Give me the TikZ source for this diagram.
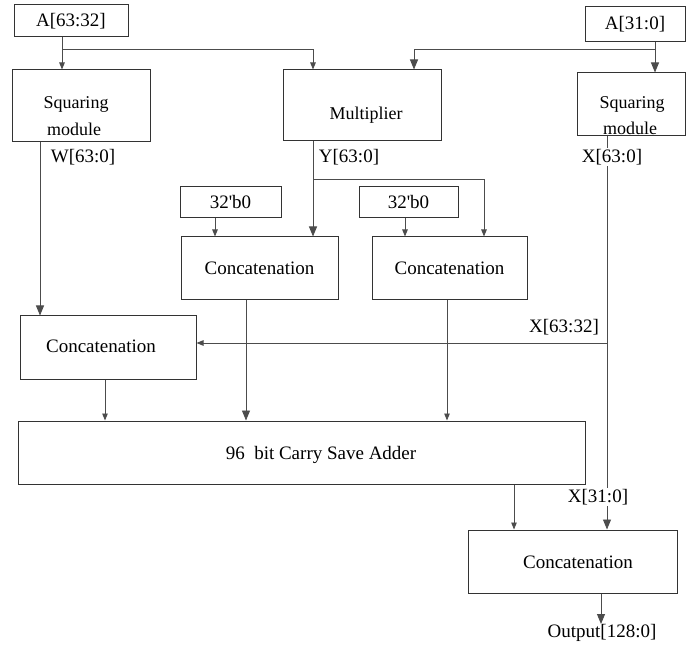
\documentclass[tikz,border=0pt]{standalone}
\usepackage{fontspec}
\setmainfont{Liberation Serif}
\usetikzlibrary{arrows.meta,calc}
\begin{document}
\begin{tikzpicture}[x=1pt,y=-1pt,
  blk/.style={draw=black!80,line width=1pt,inner sep=0pt},
  txt/.style={inner sep=0pt,font=\fontsize{18}{20}\selectfont},
  lbl/.style={inner sep=0pt,font=\fontsize{19}{21}\selectfont},
  wire/.style={draw=black!70,line width=0.9pt},
  arr/.style={wire,-{Triangle[length=7pt,width=5.5pt]}},
  arrb/.style={wire,-{Triangle[length=10pt,width=8pt]}}]
\useasboundingbox (0,0) rectangle (686,647);
% boxes
\node[blk,minimum width=114,minimum height=32] (a632) at (71,21) {};
\node[lbl] at (a632) {A[63:32]};
\node[blk,minimum width=100,minimum height=35] (a310) at (635,24.5) {};
\node[lbl] at (a310) {A[31:0]};
\node[blk,minimum width=138,minimum height=72] (sqL) at (81,106) {};
\node[txt] (sqLt1) at (76,104) {Squaring};
\node[txt] (sqLt2) at (74,129) {module};
\node[blk,minimum width=158,minimum height=71] (mult) at (362,105.5) {};
\node[txt] (multt) at (366,115) {Multiplier};
\node[blk,minimum width=108,minimum height=63] (sqR) at (631,104.5) {};
\node[txt] (sqRt1) at (632,104) {Squaring};
\node[txt] (sqRt2) at (630,128) {module};
\node[blk,minimum width=101,minimum height=31] (zL) at (230.5,202.5) {};
\node[lbl] at (zL) {32\textquotesingle b0};
\node[blk,minimum width=99,minimum height=31] (zR) at (408.5,202.5) {};
\node[lbl] at (zR) {32\textquotesingle b0};
\node[blk,minimum width=157,minimum height=63] (c1) at (259.5,268.5) {};
\node[lbl] at (c1) {Concatenation};
\node[blk,minimum width=155,minimum height=63] (c2) at (449.5,268.5) {};
\node[lbl] at (c2) {Concatenation};
\node[blk,minimum width=176,minimum height=63] (cL) at (108,347.5) {};
\node[lbl] at (101,346) {Concatenation};
\node[blk,minimum width=567,minimum height=63] (csa) at (301.5,452.5) {};
\node[lbl] at (321,455) {96\ \ bit Carry Save Adder};
\node[blk,minimum width=209,minimum height=63] (cF) at (572.5,561.5) {};
\node[lbl] at (578,562) {Concatenation};
\node[lbl,anchor=north] (out) at (602,624) {Output[128:0]};
% columns and rows
\coordinate (xa) at (62,0);
\coordinate (xm) at (313,0);
\coordinate (xb) at (414,0);
\coordinate (xr) at (655,0);
\coordinate (xW) at (40,0);
\coordinate (xY2) at (484,0);
\coordinate (xz1) at (215,0);
\coordinate (xz2) at (405,0);
\coordinate (xX) at (607,0);
\coordinate (xcl) at (105,0);
\coordinate (xc1) at (246,0);
\coordinate (xc2) at (447,0);
\coordinate (xcs) at (514,0);
\coordinate (xo) at (601,0);
\coordinate (yA) at (0,49);
\coordinate (yY) at (0,179);
\coordinate (yX) at (0,343);
% connectors
\draw[arr] (a632.south -| xa) -- (sqL.north -| xa);
\draw[arr] (xa |- yA) -| (mult.north -| xm);
\draw[arrb] (a310.south -| xr) -- (sqR.north -| xr);
\draw[arrb] (xr |- yA) -| (mult.north -| xb);
\draw[arrb] (sqL.south -| xW) -- (cL.north -| xW);
\draw[arrb] (mult.south -| xm) -- (c1.north -| xm);
\draw[arr] (xm |- yY) -| (c2.north -| xY2);
\draw[arr] (zL.south -| xz1) -- (c1.north -| xz1);
\draw[arr] (zR.south -| xz2) -- (c2.north -| xz2);
\draw[arrb] (sqR.south -| xX) -- (cF.north -| xX);
\draw[arr] (xX |- yX) -- (cL.east |- yX);
\draw[arr] (cL.south -| xcl) -- (csa.north -| xcl);
\draw[arrb] (c1.south -| xc1) -- (csa.north -| xc1);
\draw[arr] (c2.south -| xc2) -- (csa.north -| xc2);
\draw[arr] (csa.south -| xcs) -- (cF.north -| xcs);
\draw[arrb] (cF.south -| xo) -- (out.north -| xo);
% labels
\node[lbl] (lW) at (83,157) {W[63:0]};
\node[lbl] (lY) at (349,157) {Y[63:0]};
\node[lbl,fill=white,inner sep=1pt] (lX) at (612,157) {X[63:0]};
\node[lbl] (lX2) at (564,327) {X[63:32]};
\node[lbl,fill=white,inner sep=1pt] (lX3) at (598,497) {X[31:0]};
\end{tikzpicture}
\end{document}
